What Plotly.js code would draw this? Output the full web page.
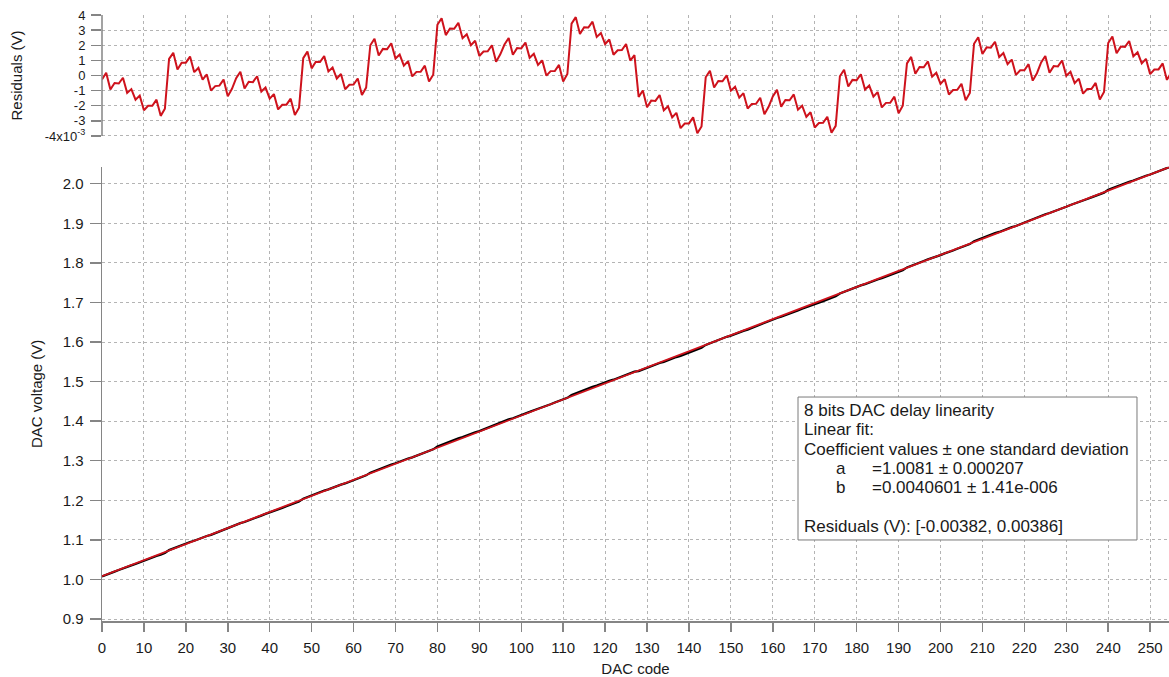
<!DOCTYPE html>
<html>
<head>
<meta charset="utf-8">
<script src="https://cdn.plot.ly/plotly-3.0.1.min.js"></script>
<style>html,body{margin:0;padding:0;background:#fff;}#chart{width:1169px;height:677px;}</style>
</head>
<body>
<div id="chart"></div>
<script>
// Fit coefficients (from the chart annotation)
const fitA = 1.0081;
const fitB = 0.0040601;

// Residuals in units of 1e-3 V, one per DAC code 0..255
const residuals = [
  -0.27, 0.18, -0.93, -0.50, -0.53, -0.15, -1.15, -0.90, -1.60, -1.33, -2.30, -2.00, -2.00, -1.60, -2.67, -2.20,
  1.10, 1.50, 0.40, 0.85, 0.85, 1.25, 0.22, 0.50, -0.27, 0.07, -1.00, -0.70, -0.67, -0.27, -1.38, -0.88,
  -0.18, 0.25, -0.86, -0.42, -0.44, -0.05, -1.06, -0.80, -1.53, -1.23, -2.24, -1.94, -1.93, -1.53, -2.62, -2.13,
  1.15, 1.58, 0.47, 0.91, 0.89, 1.28, 0.27, 0.53, -0.20, 0.10, -0.91, -0.61, -0.60, -0.20, -1.29, -0.80,
  2.00, 2.43, 1.32, 1.76, 1.74, 2.13, 1.12, 1.38, 0.65, 0.95, -0.06, 0.24, 0.25, 0.65, -0.40, 0.05,
  3.35, 3.78, 2.67, 3.11, 3.09, 3.48, 2.47, 2.73, 2.00, 2.30, 1.29, 1.59, 1.60, 2.00, 0.91, 1.40,
  2.05, 2.48, 1.37, 1.81, 1.79, 2.18, 1.17, 1.43, 0.70, 1.00, -0.01, 0.29, 0.30, 0.70, -0.39, 0.10,
  3.43, 3.86, 2.75, 3.19, 3.17, 3.56, 2.55, 2.81, 2.08, 2.38, 1.37, 1.67, 1.68, 2.08, 0.99, 1.35,
  -1.42, -0.99, -2.10, -1.66, -1.68, -1.29, -2.30, -2.04, -2.77, -2.47, -3.48, -3.18, -3.17, -2.77, -3.82, -3.37,
  -0.12, 0.31, -0.80, -0.36, -0.38, 0.01, -1.00, -0.74, -1.47, -1.17, -2.18, -1.88, -1.87, -1.47, -2.56, -2.07,
  -1.38, -0.95, -2.06, -1.62, -1.64, -1.25, -2.26, -2.00, -2.73, -2.43, -3.44, -3.14, -3.13, -2.73, -3.78, -3.33,
  -0.05, 0.38, -0.73, -0.29, -0.31, 0.08, -0.93, -0.67, -1.40, -1.10, -2.11, -1.81, -1.80, -1.40, -2.49, -2.00,
  0.80, 1.23, 0.12, 0.56, 0.54, 0.93, -0.08, 0.18, -0.55, -0.25, -1.26, -0.96, -0.95, -0.55, -1.64, -1.15,
  2.10, 2.53, 1.42, 1.86, 1.84, 2.23, 1.22, 1.48, 0.75, 1.05, 0.04, 0.34, 0.35, 0.75, -0.34, 0.15,
  0.86, 1.29, 0.18, 0.62, 0.60, 0.99, -0.02, 0.24, -0.51, -0.21, -1.20, -0.90, -0.89, -0.49, -1.58, -1.09,
  2.15, 2.58, 1.47, 1.91, 1.89, 2.28, 1.27, 1.53, 0.80, 1.10, 0.09, 0.39, 0.40, 0.80, -0.29, 0.20
];

const codes = residuals.map((_, i) => i);

const residTickVals = [-4, -3, -2, -1, 0, 1, 2, 3, 4];
const residTickText = ['-4x10<sup>-3</sup>', '-3', '-2', '-1', '0', '1', '2', '3', '4'];
const voltTickVals = [0.9, 1.0, 1.1, 1.2, 1.3, 1.4, 1.5, 1.6, 1.7, 1.8, 1.9, 2.0];
const voltTickText = ['0.9', '1.0', '1.1', '1.2', '1.3', '1.4', '1.5', '1.6', '1.7', '1.8', '1.9', '2.0'];

// Info box text lines
const boxTitle = '8 bits DAC delay linearity';
const boxFit = 'Linear fit:';
const boxCoefHeader = 'Coefficient values \u00b1 one standard deviation';
const coefNames = ['a', 'b'];
const coefValues = ['=1.0081 \u00b1 0.000207', '=0.0040601 \u00b1 1.41e-006'];
const boxResiduals = 'Residuals (V): [-0.00382, 0.00386]';

const fitLine = codes.map(c => fitA + fitB * c);
const measured = codes.map((c, i) => fitLine[i] + residuals[i] * 1e-3);

const RED = 'rgb(206,18,28)';
const GRID = '#b4b4b4';
const AXIS = '#858585';
const FONT = 'Liberation Sans, Arial, sans-serif';
const TXT = '#1a1a1a';

const traces = [
  {x: codes, y: measured, xaxis: 'x', yaxis: 'y', mode: 'lines',
   line: {color: '#000', width: 2.2}, hoverinfo: 'skip'},
  {x: codes, y: fitLine, xaxis: 'x', yaxis: 'y', mode: 'lines',
   line: {color: RED, width: 1.8}, hoverinfo: 'skip'},
  {x: codes, y: residuals, xaxis: 'x2', yaxis: 'y2', mode: 'lines',
   line: {color: RED, width: 2}, hoverinfo: 'skip'}
];

// info box geometry (paper fractions)
const bx0 = 0.6523, bx1 = 0.9700, by0 = 0.1337, by1 = 0.3696;
const lineY = [0.3470, 0.3152, 0.2833, 0.2514, 0.2195, 0.1563];
const textX = 0.6561, nameX = 0.6860, valX = 0.7200;

function boxText(text, x, y) {
  return {xref: 'paper', yref: 'paper', x: x, y: y, xanchor: 'left', yanchor: 'middle',
          showarrow: false, text: text, font: {size: 17, color: TXT}};
}

const annotations = [
  {xref: 'paper', yref: 'y2', x: 0, y: 0, xanchor: 'center', yanchor: 'middle',
   xshift: -86, textangle: -90, showarrow: false,
   text: 'Residuals (V)', font: {size: 15, color: TXT}},
  boxText(boxTitle, textX, lineY[0]),
  boxText(boxFit, textX, lineY[1]),
  boxText(boxCoefHeader, textX, lineY[2]),
  boxText(coefNames[0], nameX, lineY[3]),
  boxText(coefValues[0], valX, lineY[3]),
  boxText(coefNames[1], nameX, lineY[4]),
  boxText(coefValues[1], valX, lineY[4]),
  boxText(boxResiduals, textX, lineY[5])
];

const layout = {
  width: 1169, height: 677,
  margin: {l: 102, r: 0, t: 15, b: 56},
  paper_bgcolor: '#fff', plot_bgcolor: '#fff',
  showlegend: false,
  font: {family: FONT, size: 15, color: TXT},
  xaxis: {
    domain: [0, 1], range: [0, 254.5], anchor: 'y',
    tickmode: 'linear', tick0: 0, dtick: 10,
    ticks: 'outside', ticklen: 9, tickwidth: 1.5, tickcolor: AXIS,
    ticklabelstandoff: 3,
    showline: true, linecolor: AXIS, linewidth: 1.5,
    showgrid: true, gridcolor: GRID, griddash: 'dot', gridwidth: 1,
    zeroline: false,
    tickfont: {size: 15},
    title: {text: 'DAC code', font: {size: 15}, standoff: 9}
  },
  yaxis: {
    domain: [0, 0.7497], range: [0.895, 2.043], anchor: 'x',
    tickmode: 'array', tickvals: voltTickVals, ticktext: voltTickText,
    ticks: 'outside', ticklen: 11, tickwidth: 1.5, tickcolor: AXIS,
    ticklabelstandoff: 3,
    showline: true, linecolor: AXIS, linewidth: 1.5,
    showgrid: true, gridcolor: GRID, griddash: 'dot', gridwidth: 1,
    zeroline: false,
    tickfont: {size: 15},
    title: {text: 'DAC voltage (V)', font: {size: 15}, standoff: 16}
  },
  xaxis2: {
    domain: [0, 1], range: [0, 254.5], anchor: 'y2', matches: 'x',
    tickmode: 'linear', tick0: 0, dtick: 10,
    showticklabels: false, ticks: '',
    showline: false,
    showgrid: true, gridcolor: GRID, griddash: 'dot', gridwidth: 1,
    zeroline: false
  },
  yaxis2: {
    domain: [0.7497, 1], range: [-6.03, 4], anchor: 'x2',
    tickmode: 'array', tickvals: residTickVals, ticktext: residTickText,
    ticks: 'outside', ticklen: 10, tickwidth: 1.5, tickcolor: AXIS,
    ticklabelstandoff: 3,
    showline: false,
    showgrid: true, gridcolor: GRID, griddash: 'dot', gridwidth: 1,
    zeroline: false,
    tickfont: {size: 13}
  },
  shapes: [
    {type: 'line', xref: 'paper', yref: 'y2', x0: 0, x1: 0, y0: -4, y1: 4,
     line: {color: AXIS, width: 1.5}},
    {type: 'rect', xref: 'paper', yref: 'paper', x0: bx0, x1: bx1, y0: by0, y1: by1,
     fillcolor: '#fff', line: {color: '#7a7a7a', width: 1}, layer: 'above'}
  ],
  annotations: annotations
};

Plotly.newPlot('chart', traces, layout, {staticPlot: true, displayModeBar: false});
</script>
</body>
</html>
